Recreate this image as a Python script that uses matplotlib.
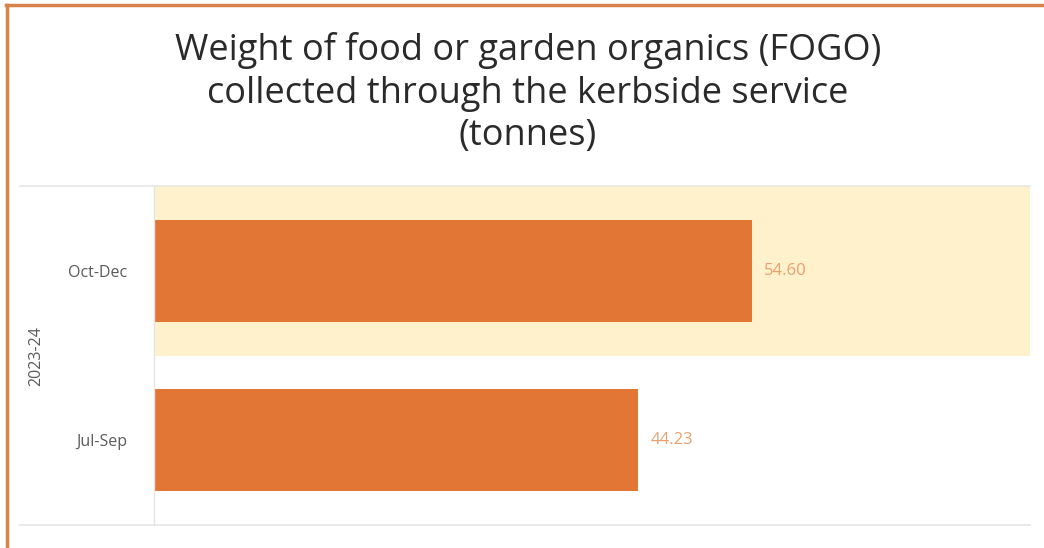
import matplotlib
matplotlib.use("Agg")
import matplotlib.pyplot as plt
from matplotlib.lines import Line2D

# Data
periods = ["Jul-Sep", "Oct-Dec"]
tonnes = [44.23, 54.60]
year_label = "2023-24"
title = "Weight of food or garden organics (FOGO)\ncollected through the kerbside service\n(tonnes)"

plt.rcParams["font.family"] = ["Open Sans", "DejaVu Sans"]

W, H = 1044, 548
fig = plt.figure(figsize=(W / 100, H / 100), dpi=100)
fig.patch.set_facecolor("white")

# plot area in pixels
x0, x1 = 154, 1030
y0, y1 = 186, 525
ax = fig.add_axes([x0 / W, 1 - y1 / H, (x1 - x0) / W, (y1 - y0) / H])
ax.set_facecolor("white")

bar_color = "#E27634"
label_color = "#E9A070"
text_grey = "#5A5A5A"

ypos = list(range(len(periods)))
ax.set_ylim(-0.5, len(periods) - 0.5)
ax.set_xlim(0, 80)

# highlight band behind the latest quarter
ax.axhspan(0.5, 1.5, color="#FFF1CB", zorder=0, lw=0)

ax.barh(ypos, tonnes, height=0.6, color=bar_color, zorder=2)
for y, v in zip(ypos, tonnes):
    ax.text(v + 1.1, y, f"{v:.2f}", va="center", ha="left",
            fontsize=12, color=label_color, zorder=3)

ax.set_yticks(ypos)
ax.set_yticklabels(periods, fontsize=11.5, color=text_grey)
ax.tick_params(axis="y", length=0, pad=19)
ax.set_xticks([])
for s in ["top", "right", "bottom"]:
    ax.spines[s].set_visible(False)
ax.spines["left"].set_color("#E4E4E4")
ax.spines["left"].set_linewidth(1.0)

# category separators spanning into the label column
ext = -(x0 - 20) / (x1 - x0)
for yy in (0, 1):
    ax.add_line(Line2D([ext, 1], [yy, yy], transform=ax.transAxes,
                       color="#E6E6E6", lw=1.2, clip_on=False, zorder=1))

# year group label
fig.text(36 / W, 1 - 356 / H, year_label, rotation=90, ha="center", va="center",
         fontsize=11.5, color=text_grey)

fig.text(0.5 + 6 / W, 1 - 93 / H, title, ha="center", va="center",
         fontsize=26, color="#2A2A2A", linespacing=1.23)

# orange frame edges
fig.add_artist(Line2D([6 / W, 1], [1 - 5 / H, 1 - 5 / H], transform=fig.transFigure,
                      color="#D9834A", lw=2.5))
fig.add_artist(Line2D([7 / W, 7 / W], [0, 1 - 5 / H], transform=fig.transFigure,
                      color="#D9834A", lw=2.5))

fig.savefig("out.png", dpi=100, facecolor="white")
